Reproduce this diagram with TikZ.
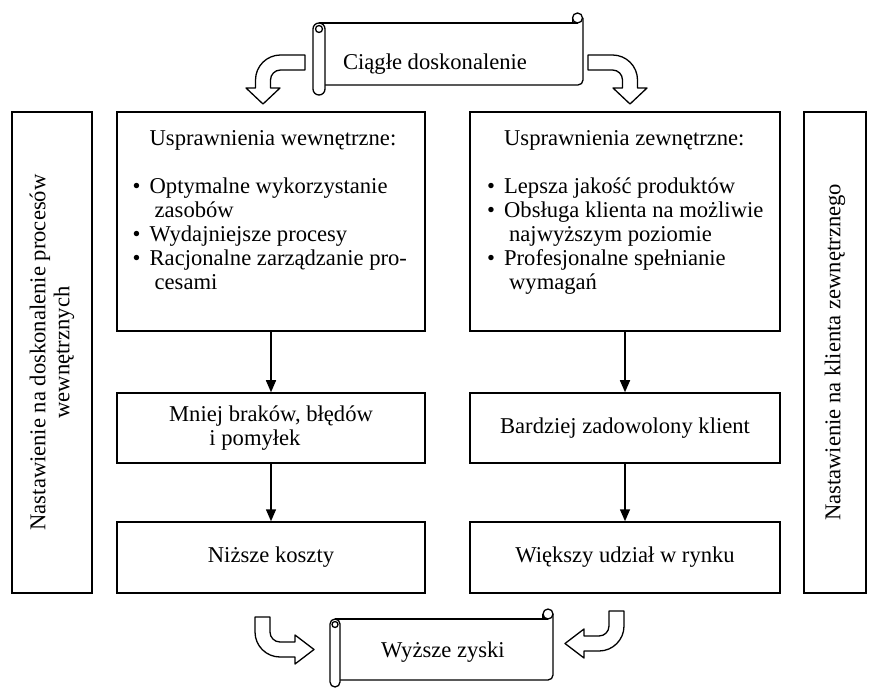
\documentclass[tikz,border=0pt]{standalone}
\usepackage{fontspec}
\setmainfont{Liberation Serif}
\usetikzlibrary{arrows.meta}
\tikzset{
	ramka/.style={draw, line width=0.75pt, inner sep=0pt},
	tekst/.style={inner sep=0pt, align=left},
	strzalka/.style={line width=0.75pt, -{Triangle[length=6pt,width=5pt]}},
	zakret/.style={draw, fill=white, line width=0.65pt, line join=round},
	zwoj/.style={line width=0.65pt},
}
\newcommand{\pkt}{\makebox[8.5pt][l]{\textbullet}}
\newcommand{\dalej}{\hspace*{11pt}}

\begin{document}
\begin{tikzpicture}[x=0.5pt, y=-0.5pt]
		\tikzstyle{every node}=[font=\fontsize{11.3}{12}\selectfont]
		\useasboundingbox (0,0) rectangle (876,688);

		\node[ramka, minimum width=40pt, minimum height=240.5pt] (nastA) at (52,352.5) {};
		\node[rotate=90, align=center, inner sep=0pt] (nastAtxt) at (nastA.center) {Nastawienie na doskonalenie procesów\\wewnętrznych};
		\node[ramka, minimum width=31pt, minimum height=240.5pt] (nastB) at (835,352.5) {};
		\node[rotate=90, align=center, inner sep=0pt] (nastBtxt) at (nastB.center) {Nastawienie na klienta zewnętrznego};

		\node[ramka, minimum width=154pt, minimum height=109.5pt] (wew) at (271,221.5) {};
		\node[tekst, anchor=north west] (wewtxt) at ([shift={(16,19)}]wew.north west) {\hspace*{8.5pt}Usprawnienia wewnętrzne:\\[12pt]
			\pkt Optymalne wykorzystanie\\
			\dalej zasobów\\
			\pkt Wydajniejsze procesy\\
			\pkt Racjonalne zarządzanie pro-\\
			\dalej cesami};
		\node[ramka, minimum width=155pt, minimum height=109.5pt] (zew) at (625,221.5) {};
		\node[tekst, anchor=north west] (zewtxt) at ([shift={(17.5,19)}]zew.north west) {\hspace*{8.5pt}Usprawnienia zewnętrzne:\\[12pt]
			\pkt Lepsza jakość produktów\\
			\pkt Obsługa klienta na możliwie\\
			\dalej najwyższym poziomie\\
			\pkt Profesjonalne spełnianie\\
			\dalej wymagań};

		\node[ramka, minimum width=154pt, minimum height=35pt, align=center] (mniej) at (271,428) {Mniej braków, błędów\\i pomyłek\hspace*{16pt}};
		\node[ramka, minimum width=155pt, minimum height=35pt] (klient) at (625,428) {Bardziej zadowolony klient};
		\node[ramka, minimum width=154pt, minimum height=35.5pt] (koszty) at (271,557.5) {Niższe koszty};
		\node[ramka, minimum width=155pt, minimum height=35.5pt] (rynek) at (625,557.5) {Większy udział w rynku};

		\draw[strzalka] (wew.south) -- (mniej.north);
		\draw[strzalka] (zew.south) -- (klient.north);
		\draw[strzalka] (mniej.south) -- (koszty.north);
		\draw[strzalka] (klient.south) -- (rynek.north);

		\draw[zwoj, rounded corners=2.5pt] (583,18) -- (583,85) -- (325,85);
		\draw[zwoj] (319,23) -- (578,23);
		\draw[zwoj] (577.5,18) circle[radius=5];
		\draw[zwoj] (572.5,18) -- (572.5,23);
		\draw[zwoj, fill=white, rounded corners=3pt] (313,23) rectangle (325,95);
		\draw[zwoj] (319,29) circle[radius=3.5];
		\node (ciagle) at (435,64) {Ciągłe doskonalenie};

		\draw[zwoj, rounded corners=2.5pt] (553,614) -- (553,680) -- (340,680);
		\draw[zwoj] (335,619) -- (548,619);
		\draw[zwoj] (548,614) circle[radius=5];
		\draw[zwoj] (543,614) -- (543,619);
		\draw[zwoj, fill=white, rounded corners=2.5pt] (330,619) rectangle (340,687);
		\draw[zwoj] (335,624.5) circle[radius=3];
		\node (zyski) at (443,652) {Wyższe zyski};

		\draw[zakret] (305,55) -- (280.5,55) arc[start angle=270, end angle=180, radius=25] -- (255.5,88) -- (246,88) -- (263,104) -- (280,88) -- (270.5,88) -- (270.5,80) arc[start angle=180, end angle=270, radius=10] -- (305,70) -- cycle;
		\draw[zakret] (588,55) -- (612.5,55) arc[start angle=270, end angle=360, radius=25] -- (637.5,88) -- (647,88) -- (630,104) -- (613,88) -- (622.5,88) -- (622.5,80) arc[start angle=360, end angle=270, radius=10] -- (588,70) -- cycle;
		\draw[zakret] (255,617) -- (255,632) arc[start angle=180, end angle=90, radius=25] -- (295,657) -- (295,664) -- (314,649.5) -- (295,635) -- (295,642) -- (280,642) arc[start angle=90, end angle=180, radius=10] -- (270,617) -- cycle;
		\draw[zakret] (624,611) -- (624,626) arc[start angle=0, end angle=90, radius=25] -- (584,651) -- (584,658) -- (565,643.5) -- (584,629) -- (584,636) -- (599,636) arc[start angle=90, end angle=0, radius=10] -- (609,611) -- cycle;
	\end{tikzpicture}
\end{document}
